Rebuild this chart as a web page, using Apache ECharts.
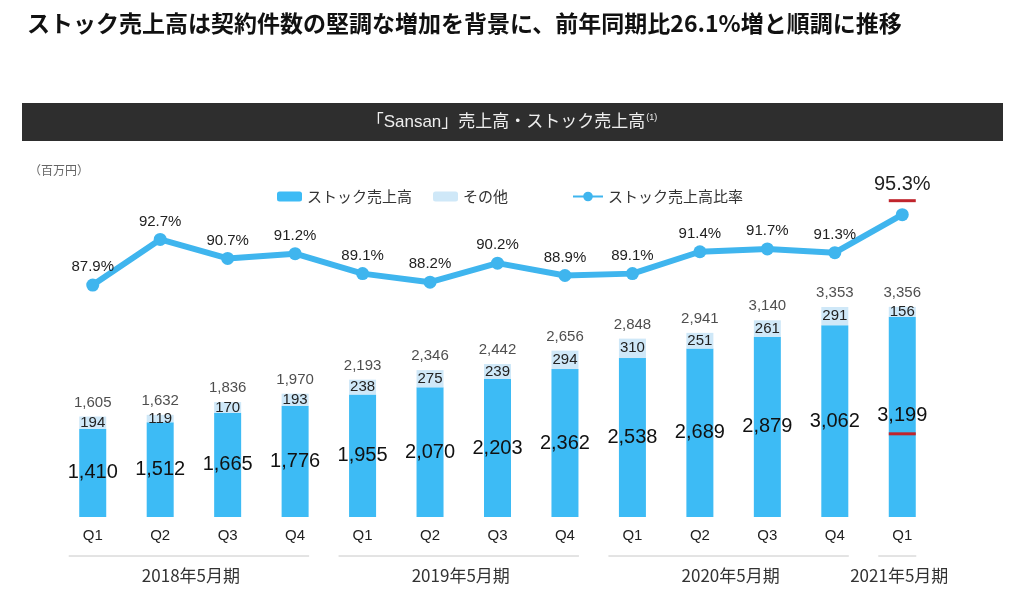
<!DOCTYPE html>
<html><head><meta charset="utf-8">
<script src="https://cdn.jsdelivr.net/npm/echarts@6/dist/echarts.min.js"></script>
<style>html,body{margin:0;padding:0;background:#fff}#c{width:1024px;height:600px}</style>
</head><body><div id="c"></div>
<script>
const quarters = ['Q1','Q2','Q3','Q4','Q1','Q2','Q3','Q4','Q1','Q2','Q3','Q4','Q1'];
const fiscalYears = ['2018年5月期','2019年5月期','2020年5月期','2021年5月期'];
const groupSizes = [4,4,4,1];
const stockSales = [1410,1512,1665,1776,1955,2070,2203,2362,2538,2689,2879,3062,3199];
const otherSales = [194,119,170,193,238,275,239,294,310,251,261,291,156];
const totalSales = [1605,1632,1836,1970,2193,2346,2442,2656,2848,2941,3140,3353,3356];
const stockRatio = [87.9,92.7,90.7,91.2,89.1,88.2,90.2,88.9,89.1,91.4,91.7,91.3,95.3];
const highlightIndex = 12;

const FONT = "'Liberation Sans', 'Noto Sans CJK JP', sans-serif";
const JP = "'Noto Sans CJK JP', 'Liberation Sans', sans-serif";
const STOCK = '#3dbbf5', OTHER = '#cfe8f8', LINE = '#3fb5ee', RED = '#c0242c';
const fmt = v => v.toLocaleString('en-US');

const chart = echarts.init(document.getElementById('c'));
chart.setOption({
  animation: false,
  textStyle: { fontFamily: FONT },
  title: [
    { text: 'ストック売上高は契約件数の堅調な増加を背景に、前年同期比26.1%増と順調に推移',
      left: 22, top: 7, textStyle: { fontSize: 23, fontWeight: 'bold', color: '#111', fontFamily: JP } },
    { text: '（百万円）', left: 24, top: 159, textStyle: { fontSize: 12, fontWeight: 'normal', color: '#666', fontFamily: JP } }
  ],
  legend: [
    { data: ['ストック売上高'], left: 272, top: 184, itemWidth: 25, itemHeight: 10,
      textStyle: { fontSize: 15, color: '#333', fontFamily: JP } },
    { data: ['その他'], left: 428, top: 184, itemWidth: 25, itemHeight: 10,
      textStyle: { fontSize: 15, color: '#333', fontFamily: JP } },
    { data: ['ストック売上高比率'], left: 567, top: 184, itemWidth: 30, itemHeight: 12,
      textStyle: { fontSize: 15, color: '#333', fontFamily: JP } }
  ],
  grid: { left: 59, right: 88, top: 170, bottom: 83 },
  xAxis: {
    type: 'category', data: quarters,
    axisLine: { show: false }, axisTick: { show: false },
    axisLabel: { fontSize: 15, color: '#222', margin: 11, interval: 0 }
  },
  yAxis: [
    { type: 'value', min: 0, max: 5540, show: false, splitLine: { show: false } },
    { type: 'value', min: 63.5, max: 100, show: false, splitLine: { show: false } }
  ],
  series: [
    { name: 'ストック売上高', type: 'bar', stack: 's', barWidth: 27,
      itemStyle: { color: STOCK },
      data: stockSales.map((v, i) => i === highlightIndex ? {
        value: v,
        label: { formatter: '{n|' + fmt(v) + '}\n{u|}',
          rich: { n: { fontSize: 20, color: '#111', lineHeight: 34, fontFamily: FONT },
                  u: { width: 27, height: 3, backgroundColor: RED, align: 'center' } } }
      } : v),
      label: { show: true, position: 'inside', fontSize: 20, color: '#111',
        formatter: p => fmt(p.value) } },
    { name: 'その他', type: 'bar', stack: 's', barWidth: 27,
      itemStyle: { color: OTHER },
      data: otherSales,
      label: { show: true, position: 'inside', fontSize: 15, color: '#222' } },
    { name: '合計', type: 'scatter', data: totalSales, symbolSize: 1,
      itemStyle: { color: 'rgba(0,0,0,0)' }, silent: true,
      label: { show: true, position: 'top', distance: 6, fontSize: 15, color: '#222',
        formatter: p => fmt(p.value) } },
    { name: 'ストック売上高比率', type: 'line', yAxisIndex: 1, data: stockRatio.map((v, i) => i === highlightIndex ? {
        value: v,
        label: { distance: 6, formatter: '{n|' + v.toFixed(1) + '%}\n{u|}',
          rich: { n: { fontSize: 20, color: '#222', lineHeight: 30, fontFamily: FONT },
                  u: { width: 27, height: 3, backgroundColor: RED, align: 'center' } } }
      } : v),
      symbol: 'circle', symbolSize: 13,
      lineStyle: { color: LINE, width: 6 }, itemStyle: { color: LINE },
      label: { show: true, position: 'top', distance: 4, fontSize: 15, color: '#222',
        formatter: p => p.value.toFixed(1) + '%' } }
  ]
});

const xPix = i => chart.convertToPixel({ xAxisIndex: 0 }, i);
const graphics = [
  { type: 'rect', shape: { x: 22, y: 103, width: 981, height: 38 }, style: { fill: '#2e2e2e' }, z: 0 },
  { type: 'text', x: 512, y: 122, z: 1,
    style: { text: '「Sansan」売上高・ストック売上高{s|(1)}', fill: '#eee', fontSize: 17, fontFamily: FONT,
      align: 'center', verticalAlign: 'middle',
      rich: { s: { fontSize: 9, fill: '#eee', verticalAlign: 'top', padding: [0,0,8,1] } } } }
];
let start = 0;
groupSizes.forEach((n, g) => {
  const x1 = xPix(start) - 24, x2 = xPix(start + n - 1) + 14;
  graphics.push({ type: 'line', shape: { x1: x1, y1: 556, x2: x2, y2: 556 }, style: { stroke: '#c8c8c8', lineWidth: 1 } });
  graphics.push({ type: 'text', x: (x1 + x2) / 2 + 2, y: 576,
    style: { text: fiscalYears[g], fill: '#333', fontSize: 17, fontFamily: JP, align: 'center', verticalAlign: 'middle' } });
  start += n;
});
chart.setOption({ graphic: graphics });
</script></body></html>
